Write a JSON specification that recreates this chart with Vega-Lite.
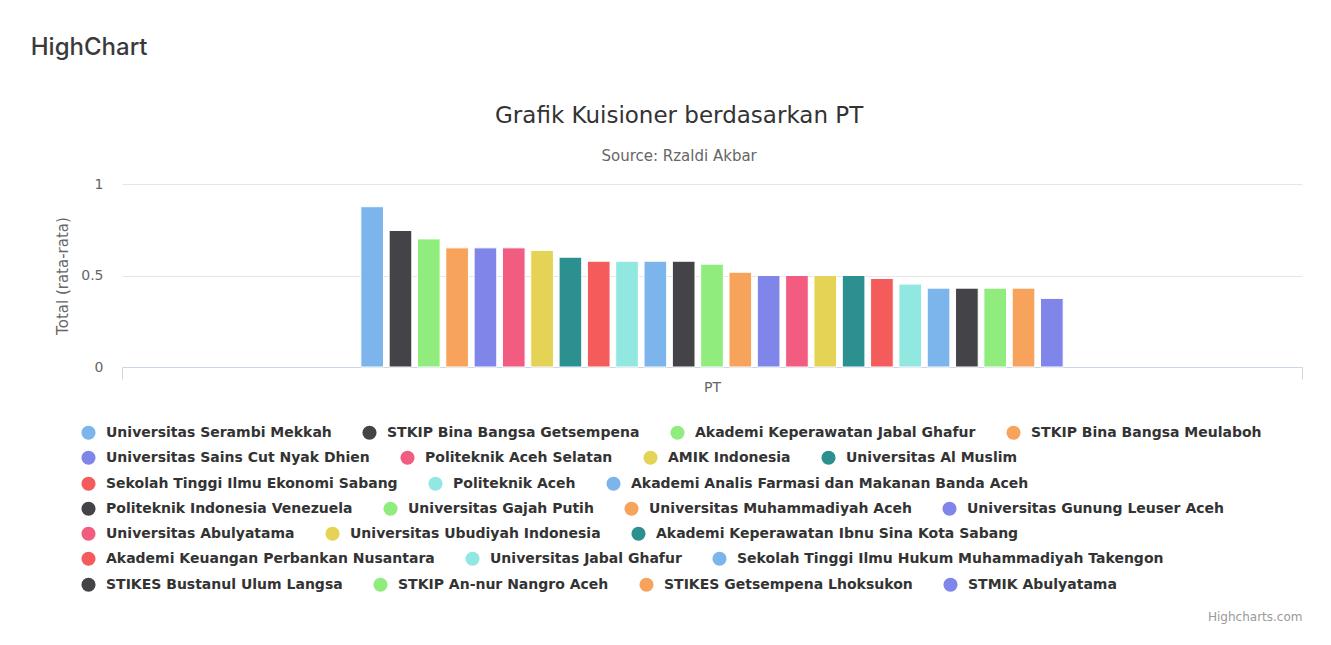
{
  "$schema": "https://vega.github.io/schema/vega-lite/v6.json",
  "background": "white",
  "padding": {"left": 30, "top": 36, "right": 10, "bottom": 5},
  "title": {"text": "HighChart", "anchor": "start", "frame": "bounds", "dx": -25, "font": "Inter", "fontSize": 24, "fontWeight": 500, "color": "#3a3a3a", "offset": 45},
  "vconcat": [
    {
      "title": {"text": "Highcharts.com", "orient": "bottom", "anchor": "end", "frame": "bounds", "font": "DejaVu Sans", "fontSize": 12, "fontWeight": "normal", "color": "#999999", "offset": 20},
      "vconcat": [
        {
          "width": 1180,
          "height": 183,
          "title": {"text": "Grafik Kuisioner berdasarkan PT", "subtitle": "Source: Rzaldi Akbar", "anchor": "middle", "frame": "bounds", "font": "DejaVu Sans", "fontSize": 23, "fontWeight": "normal", "color": "#333333", "subtitleFont": "DejaVu Sans", "subtitleFontSize": 15, "subtitleColor": "#666666", "subtitlePadding": 21, "offset": 13},
          "data": {"values": [
            {"pt": "PT", "name": "Universitas Serambi Mekkah", "value": 0.876},
            {"pt": "PT", "name": "STKIP Bina Bangsa Getsempena", "value": 0.746},
            {"pt": "PT", "name": "Akademi Keperawatan Jabal Ghafur", "value": 0.70},
            {"pt": "PT", "name": "STKIP Bina Bangsa Meulaboh", "value": 0.651},
            {"pt": "PT", "name": "Universitas Sains Cut Nyak Dhien", "value": 0.651},
            {"pt": "PT", "name": "Politeknik Aceh Selatan", "value": 0.651},
            {"pt": "PT", "name": "AMIK Indonesia", "value": 0.637},
            {"pt": "PT", "name": "Universitas Al Muslim", "value": 0.60},
            {"pt": "PT", "name": "Sekolah Tinggi Ilmu Ekonomi Sabang", "value": 0.578},
            {"pt": "PT", "name": "Politeknik Aceh", "value": 0.578},
            {"pt": "PT", "name": "Akademi Analis Farmasi dan Makanan Banda Aceh", "value": 0.578},
            {"pt": "PT", "name": "Politeknik Indonesia Venezuela", "value": 0.578},
            {"pt": "PT", "name": "Universitas Gajah Putih", "value": 0.562},
            {"pt": "PT", "name": "Universitas Muhammadiyah Aceh", "value": 0.518},
            {"pt": "PT", "name": "Universitas Gunung Leuser Aceh", "value": 0.50},
            {"pt": "PT", "name": "Universitas Abulyatama", "value": 0.50},
            {"pt": "PT", "name": "Universitas Ubudiyah Indonesia", "value": 0.50},
            {"pt": "PT", "name": "Akademi Keperawatan Ibnu Sina Kota Sabang", "value": 0.50},
            {"pt": "PT", "name": "Akademi Keuangan Perbankan Nusantara", "value": 0.484},
            {"pt": "PT", "name": "Universitas Jabal Ghafur", "value": 0.453},
            {"pt": "PT", "name": "Sekolah Tinggi Ilmu Hukum Muhammadiyah Takengon", "value": 0.431},
            {"pt": "PT", "name": "STIKES Bustanul Ulum Langsa", "value": 0.431},
            {"pt": "PT", "name": "STKIP An-nur Nangro Aceh", "value": 0.431},
            {"pt": "PT", "name": "STIKES Getsempena Lhoksukon", "value": 0.431},
            {"pt": "PT", "name": "STMIK Abulyatama", "value": 0.375}
          ]},
          "encoding": {
            "x": {"field": "pt", "type": "nominal", "scale": {"paddingInner": 0, "paddingOuter": 0},
              "axis": {"title": null, "labelAngle": 0, "tickBand": "extent", "domainColor": "#ccd6eb", "tickColor": "#ccd6eb", "tickSize": 12, "labelColor": "#666666", "labelFont": "DejaVu Sans", "labelFontSize": 14, "labelPadding": 1, "grid": false}},
            "xOffset": {"field": "name", "type": "nominal", "scale": {"range": [236, 944], "paddingInner": 0.2, "paddingOuter": 0.1, "domain": [
              "Universitas Serambi Mekkah", "STKIP Bina Bangsa Getsempena", "Akademi Keperawatan Jabal Ghafur", "STKIP Bina Bangsa Meulaboh",
              "Universitas Sains Cut Nyak Dhien", "Politeknik Aceh Selatan", "AMIK Indonesia", "Universitas Al Muslim",
              "Sekolah Tinggi Ilmu Ekonomi Sabang", "Politeknik Aceh", "Akademi Analis Farmasi dan Makanan Banda Aceh",
              "Politeknik Indonesia Venezuela", "Universitas Gajah Putih", "Universitas Muhammadiyah Aceh", "Universitas Gunung Leuser Aceh",
              "Universitas Abulyatama", "Universitas Ubudiyah Indonesia", "Akademi Keperawatan Ibnu Sina Kota Sabang",
              "Akademi Keuangan Perbankan Nusantara", "Universitas Jabal Ghafur", "Sekolah Tinggi Ilmu Hukum Muhammadiyah Takengon",
              "STIKES Bustanul Ulum Langsa", "STKIP An-nur Nangro Aceh", "STIKES Getsempena Lhoksukon", "STMIK Abulyatama"]}},
            "y": {"field": "value", "type": "quantitative", "scale": {"domain": [0, 1]},
              "axis": {"title": "Total (rata-rata)", "values": [0, 0.5, 1], "format": "~g", "domain": false, "ticks": false, "gridColor": "#e6e6e6", "labelColor": "#666666", "labelFont": "DejaVu Sans", "labelFontSize": 14, "labelPadding": 19, "titleColor": "#666666", "titleFont": "DejaVu Sans", "titleFontSize": 15, "titleFontWeight": "normal", "titlePadding": 10}}
          },
          "layer": [
            {
              "transform": [{"filter": {"field": "name", "oneOf": ["Universitas Serambi Mekkah", "STKIP Bina Bangsa Getsempena", "Akademi Keperawatan Jabal Ghafur", "STKIP Bina Bangsa Meulaboh"]}}],
              "mark": {"type": "bar", "stroke": "white", "strokeWidth": 1},
              "encoding": {"color": {"field": "name", "type": "nominal", "scale": {"domain": ["Universitas Serambi Mekkah", "STKIP Bina Bangsa Getsempena", "Akademi Keperawatan Jabal Ghafur", "STKIP Bina Bangsa Meulaboh"], "range": ["#7cb5ec", "#434348", "#90ed7d", "#f7a35c"]}, "legend": {"title": null, "orient": "none", "legendX": -41, "legendY": 241}}}
            },
            {
              "transform": [{"filter": {"field": "name", "oneOf": ["Universitas Sains Cut Nyak Dhien", "Politeknik Aceh Selatan", "AMIK Indonesia", "Universitas Al Muslim"]}}],
              "mark": {"type": "bar", "stroke": "white", "strokeWidth": 1},
              "encoding": {"color": {"field": "name", "type": "nominal", "scale": {"domain": ["Universitas Sains Cut Nyak Dhien", "Politeknik Aceh Selatan", "AMIK Indonesia", "Universitas Al Muslim"], "range": ["#8085e9", "#f15c80", "#e4d354", "#2b908f"]}, "legend": {"title": null, "orient": "none", "legendX": -41, "legendY": 266}}}
            },
            {
              "transform": [{"filter": {"field": "name", "oneOf": ["Sekolah Tinggi Ilmu Ekonomi Sabang", "Politeknik Aceh", "Akademi Analis Farmasi dan Makanan Banda Aceh"]}}],
              "mark": {"type": "bar", "stroke": "white", "strokeWidth": 1},
              "encoding": {"color": {"field": "name", "type": "nominal", "scale": {"domain": ["Sekolah Tinggi Ilmu Ekonomi Sabang", "Politeknik Aceh", "Akademi Analis Farmasi dan Makanan Banda Aceh"], "range": ["#f45b5b", "#91e8e1", "#7cb5ec"]}, "legend": {"title": null, "orient": "none", "legendX": -41, "legendY": 292}}}
            },
            {
              "transform": [{"filter": {"field": "name", "oneOf": ["Politeknik Indonesia Venezuela", "Universitas Gajah Putih", "Universitas Muhammadiyah Aceh", "Universitas Gunung Leuser Aceh"]}}],
              "mark": {"type": "bar", "stroke": "white", "strokeWidth": 1},
              "encoding": {"color": {"field": "name", "type": "nominal", "scale": {"domain": ["Politeknik Indonesia Venezuela", "Universitas Gajah Putih", "Universitas Muhammadiyah Aceh", "Universitas Gunung Leuser Aceh"], "range": ["#434348", "#90ed7d", "#f7a35c", "#8085e9"]}, "legend": {"title": null, "orient": "none", "legendX": -41, "legendY": 317}}}
            },
            {
              "transform": [{"filter": {"field": "name", "oneOf": ["Universitas Abulyatama", "Universitas Ubudiyah Indonesia", "Akademi Keperawatan Ibnu Sina Kota Sabang"]}}],
              "mark": {"type": "bar", "stroke": "white", "strokeWidth": 1},
              "encoding": {"color": {"field": "name", "type": "nominal", "scale": {"domain": ["Universitas Abulyatama", "Universitas Ubudiyah Indonesia", "Akademi Keperawatan Ibnu Sina Kota Sabang"], "range": ["#f15c80", "#e4d354", "#2b908f"]}, "legend": {"title": null, "orient": "none", "legendX": -41, "legendY": 342}}}
            },
            {
              "transform": [{"filter": {"field": "name", "oneOf": ["Akademi Keuangan Perbankan Nusantara", "Universitas Jabal Ghafur", "Sekolah Tinggi Ilmu Hukum Muhammadiyah Takengon"]}}],
              "mark": {"type": "bar", "stroke": "white", "strokeWidth": 1},
              "encoding": {"color": {"field": "name", "type": "nominal", "scale": {"domain": ["Akademi Keuangan Perbankan Nusantara", "Universitas Jabal Ghafur", "Sekolah Tinggi Ilmu Hukum Muhammadiyah Takengon"], "range": ["#f45b5b", "#91e8e1", "#7cb5ec"]}, "legend": {"title": null, "orient": "none", "legendX": -41, "legendY": 367}}}
            },
            {
              "transform": [{"filter": {"field": "name", "oneOf": ["STIKES Bustanul Ulum Langsa", "STKIP An-nur Nangro Aceh", "STIKES Getsempena Lhoksukon", "STMIK Abulyatama"]}}],
              "mark": {"type": "bar", "stroke": "white", "strokeWidth": 1},
              "encoding": {"color": {"field": "name", "type": "nominal", "scale": {"domain": ["STIKES Bustanul Ulum Langsa", "STKIP An-nur Nangro Aceh", "STIKES Getsempena Lhoksukon", "STMIK Abulyatama"], "range": ["#434348", "#90ed7d", "#f7a35c", "#8085e9"]}, "legend": {"title": null, "orient": "none", "legendX": -41, "legendY": 393}}}
            }
          ],
          "resolve": {"scale": {"color": "independent"}, "legend": {"color": "independent"}}
        }
      ]
    }
  ],
  "config": {
    "view": {"stroke": null},
    "font": "DejaVu Sans",
    "legend": {
      "direction": "horizontal",
      "symbolType": "circle",
      "symbolSize": 200,
      "symbolStrokeWidth": 0,
      "symbolOpacity": 1,
      "labelFont": "DejaVu Sans",
      "labelFontSize": 14,
      "labelFontWeight": "bold",
      "labelColor": "#333333",
      "labelLimit": 700,
      "labelOffset": 10,
      "columnPadding": 30,
      "padding": 0
    }
  }
}
